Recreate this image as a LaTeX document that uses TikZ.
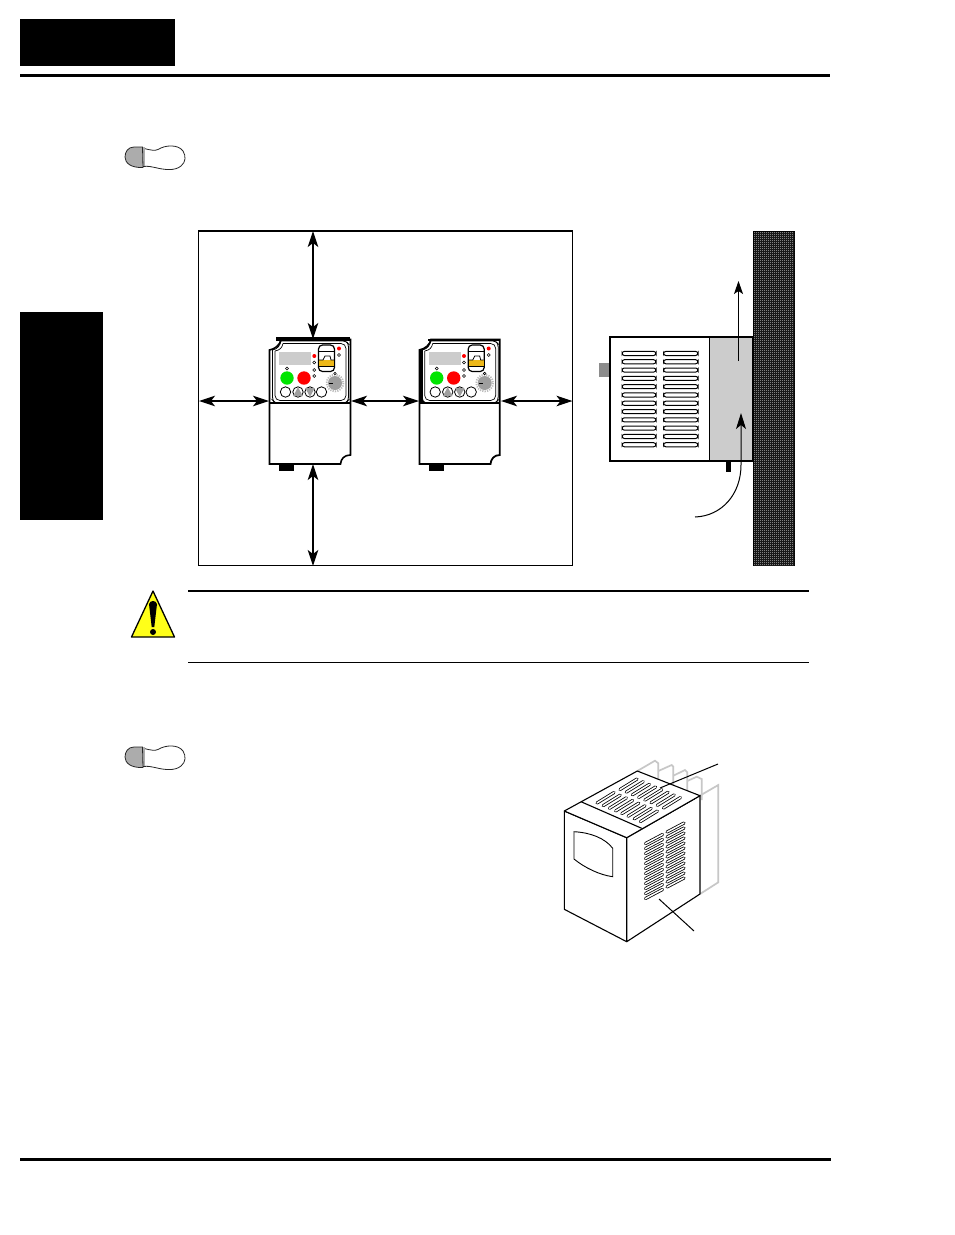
\documentclass[tikz,border=0pt]{standalone}
\usetikzlibrary{arrows.meta,patterns}
\definecolor{panelgray}{gray}{0.8}
\definecolor{dialgray}{gray}{0.62}
\definecolor{fingray}{gray}{0.78}
\definecolor{walllight}{gray}{0.78}
\definecolor{cautionyellow}{rgb}{1,1,0.1}
\definecolor{amber}{rgb}{0.93,0.72,0.1}
\pgfdeclarepatternformonly{wallcheck}{\pgfqpoint{0pt}{0pt}}{\pgfqpoint{2pt}{2pt}}{\pgfqpoint{2pt}{2pt}}{%
  \pgfpathrectangle{\pgfqpoint{0pt}{0pt}}{\pgfqpoint{1pt}{1pt}}%
  \pgfpathrectangle{\pgfqpoint{1pt}{1pt}}{\pgfqpoint{1pt}{1pt}}%
  \pgfusepath{fill}}
\tikzset{
  bigtip/.tip={Stealth[length=16pt,width=10.5pt,inset=4pt]},
  dim/.style={line width=1.1pt,{bigtip}-{bigtip}},
  flow/.style={line width=1pt,-{Stealth[length=16pt,width=10pt,inset=4pt]}},
  thinflow/.style={line width=1pt,-{Stealth[length=13pt,width=9pt,inset=3pt]}},
  outline/.style={draw=black,line width=1.1pt},
  slot/.style={draw=black,line width=1pt,fill=white,rounded corners=2.4pt},
  isoslot/.style={draw=black,line width=3.1pt,line cap=round,postaction={draw=white,line width=1.5pt,line cap=round}},
  fin/.style={draw=fingray,line width=1.7pt,line join=miter},
  led/.style={draw=black,line width=0.6pt,fill=white},
  redled/.style={fill=red,draw=none},
  btn/.style={draw=black,line width=0.8pt,fill=white},
}
\newcommand{\inverterface}[1]{%
  \begin{scope}[shift={(#1,0)}]
    % panel outline
    \draw[line width=0.8pt,rounded corners=3pt] (272.5,350)--(272.5,400)--(275,403)--(346,403)--(348.5,400)--(348.5,344)--(346,341)--(281,341);
    \draw[line width=0.8pt] (272.5,350) .. controls (278,349) and (280,345) .. (281,341);
    \draw[line width=0.7pt,rounded corners=5pt] (275,351)--(275,400.5)--(346,400.5)--(346,343.5)--(283,343.5);
    \draw[line width=0.7pt] (275,351) .. controls (280,350) and (282,348) .. (283,343.5);
    \fill[panelgray] (279,352) rectangle (311,365);
    % switch
    \draw[line width=1.2pt,fill=white,rounded corners=4pt] (318.5,345) rectangle (334.5,371.5);
    \draw[line width=0.8pt] (318.5,351) -- (334.5,351);
    \fill[amber] (319,360) rectangle (334,366);
    \draw[line width=0.8pt] (319,360) -- (323,360) -- (325,356) -- (330,356) -- (331,360) -- (334,360);
    \draw[line width=1pt] (319,366) -- (334,366);
    % LEDs
    \fill[redled] (314.3,356) circle (2);
    \draw[led] (314.3,362.5) circle (1.5);
    \draw[led] (314.3,370) circle (1.5);
    \draw[led] (314.3,376) circle (1.5);
    \fill[redled] (339,348.5) circle (2);
    \draw[led] (339,355) circle (1.5);
    \draw[led] (287,368.5) circle (1.5);
    % run and stop
    \fill[green!90!black] (287,378) circle (6.7);
    \fill[red] (304,378) circle (6.7);
    % keys
    \draw[btn] (285.5,392) circle (5.2);
    \draw[btn] (298,392) circle (5.2);
    \draw[btn] (310,392) circle (5.2);
    \draw[btn] (321.5,392) circle (5.2);
    \fill[dialgray] (298,387.2) -- (302.8,396) -- (293.2,396) -- cycle;
    \fill[dialgray] (310,396.8) -- (314.8,388) -- (305.2,388) -- cycle;
    % dial
    \draw[dialgray!70,line width=1.8pt,dash pattern=on 1.2pt off 1.2pt] (335,383) circle (8.4);
    \fill[dialgray] (335,383) circle (7);
    \draw[line width=0.6pt] (329,383) -- (333,383);
    \draw[led] (335,373.5) circle (1.3);
  \end{scope}}
\newcommand{\footprint}[1]{%
  \begin{scope}[shift={(0,#1)}]
    \fill[gray!65] (143,147) rectangle (145,167);
    \draw[line width=0.8pt,black!85] (145,148.7) .. controls (150,150) and (155,151) .. (158,149.5) .. controls (165,145) and (178,144) .. (183,151) .. controls (186,156) and (186,162) .. (181,166) .. controls (175,171) and (165,170) .. (155,167.5) .. controls (151,166.5) and (148,166) .. (143,166.5);
    \draw[line width=0.8pt,black!85,fill=gray!65] (142.5,147) -- (134,147) .. controls (128,147) and (125,152) .. (125,157) .. controls (125,163) and (131,168) .. (143,167.5) -- cycle;
  \end{scope}}
\begin{document}
\begin{tikzpicture}[x=1pt,y=-1pt]
\useasboundingbox (0,0) rectangle (954,1235);
\fill[white] (0,0) rectangle (954,1235);

% page furniture
\fill[black] (20,19) rectangle (175,66);
\fill[black] (20,312) rectangle (103,520);
\draw[line width=3pt] (20,75) -- (830,75);
\draw[line width=3pt] (20,1159.5) -- (831,1159.5);

\footprint{0}
\footprint{600}

% clearance frame
\draw[line width=1.1pt] (198.5,231) rectangle (572.5,565.5);
\coordinate (frameT) at (313,231);
\coordinate (frameB) at (313,566);
\coordinate (frameL) at (199,401);
\coordinate (frameR) at (572.5,401);

% drive 1
\draw[line width=1.6pt,fill=white] (281,339.5) -- (350.5,339.5) -- (350.5,455) .. controls (344,455) and (341,459) .. (340.5,464) -- (269.5,464) -- (269.5,350) .. controls (275,349) and (280,345) .. (281,339.5) -- cycle;
\draw[line width=3.4pt] (276,339) -- (350,339);
\inverterface{0}
\draw[line width=1.1pt] (269.5,403) -- (350.5,403);
\fill[black] (279,464) rectangle (294,470.5);
\coordinate (d1T) at (313,339);
\coordinate (d1B) at (313,464);
\coordinate (d1L) at (269,401);
\coordinate (d1R) at (351,401);

% drive 2
\draw[line width=1.8pt,fill=white] (431,339.5) -- (499.8,339.5) -- (499.8,455) .. controls (494,455) and (491,459) .. (490.5,464) -- (419.5,464) -- (419.5,350) .. controls (425,349) and (430,345) .. (431,339.5) -- cycle;
\draw[line width=1.8pt] (428,340) -- (499.5,340);
\fill[black] (418.7,349) rectangle (422.5,403);
\inverterface{149.7}
\draw[line width=1.1pt] (419.5,403) -- (499.5,403);
\fill[black] (429,464) rectangle (444,470.5);
\coordinate (d2L) at (419,401);
\coordinate (d2R) at (501,401);

\draw[dim] (frameT) -- (d1T);
\draw[dim] (d1B) -- (frameB);
\draw[dim] (frameL) -- (d1L);
\draw[dim] (d1R) -- (d2L);
\draw[dim] (d2R) -- (frameR);

% wall
\fill[black] (753,231) rectangle (795,566);
\fill[pattern=wallcheck,pattern color=walllight] (754,232) rectangle (794,565);

% side view
\fill[gray!90] (599,363) rectangle (610,377);
\fill[black] (726,461) rectangle (731,472);
\fill[panelgray] (709.5,337) rectangle (753,461);
\draw[line width=1.6pt] (610,337) rectangle (753,461);
\draw[line width=1.1pt] (709.5,337) -- (709.5,461);
\foreach \n in {0,...,11}{
  \pgfmathsetmacro{\yy}{353.3+8.3*\n}
  \draw[slot] (622,\yy-1.9) rectangle (656,\yy+2.2);
  \draw[slot] (663.5,\yy-1.9) rectangle (698,\yy+2.2);
}
\coordinate (upS) at (738.5,361);
\coordinate (upE) at (738.5,281);
\draw[thinflow] (upS) -- (upE);
\coordinate (curveS) at (695,517);
\coordinate (curveE) at (741,413);
\draw[flow] (curveS) .. controls (722,516) and (741,494) .. (741,465) -- (curveE);

% caution block
\draw[line width=2pt] (188,591) -- (808.5,591);
\draw[line width=1pt] (188,662.5) -- (808.5,662.5);
\draw[line width=1.3pt,line join=round,fill=cautionyellow] (153,591) -- (174.5,637) -- (131.5,637) -- cycle;
\fill[black] (149,604) .. controls (150,600) and (156,600) .. (157,604) -- (154.3,627) -- (151.7,627) -- cycle;
\fill[black] (153,632) circle (3);

% isometric drive
\foreach \px/\py/\qx/\qy/\rx/\ry/\sy in {
  637.3/771/655/760.7/658.3/763.3/780,
  658.3/771/671.7/765/673.3/766.7/785,
  673.3/775.7/685/770/687.3/772.3/790,
  687.3/781/696.7/776.7/701.7/779/800}{
  \draw[fin] (\px,\py) -- (\qx,\qy) -- (\rx,\ry) -- (\rx,\sy);
}
\draw[fin] (699.3,796) -- (718.3,785) -- (718.3,882.3) -- (700,894);

\draw[outline,fill=white,line join=round] (564.3,811) -- (626.7,837.7) -- (626.7,941.7) -- (564.3,909.3) -- cycle;
\draw[outline,fill=white,line join=round] (626.7,837.7) -- (700,795.7) -- (700,894) -- (626.7,941.7) -- cycle;
\draw[outline,fill=white,line join=round] (564.3,811) -- (637.3,771) -- (700,795.7) -- (626.7,837.7) -- cycle;
\draw[line width=1.1pt] (581,801.7) -- (641.7,828.3);
\draw[line width=0.9pt] (574,831.7) .. controls (590,832.5) and (605,838) .. (612.7,848.3) -- (612.7,876.7) .. controls (600,875) and (585,868) .. (574,859) -- cycle;

% top louvres
\foreach \n in {0,...,7}{
  \pgfmathsetmacro{\ax}{597+6.2*\n}
  \pgfmathsetmacro{\ay}{803+2.65*\n}
  \draw[isoslot] (\ax,\ay) -- (\ax+17,\ay-10.5);
}
\foreach \n in {0,...,7}{
  \pgfmathsetmacro{\ax}{620+6.2*\n}
  \pgfmathsetmacro{\ay}{789.5+2.65*\n}
  \draw[isoslot] (\ax,\ay) -- (\ax+17,\ay-10.5);
}
% side louvres
\foreach \n in {0,...,11}{
  \pgfmathsetmacro{\ay}{843.5+5*\n}
  \draw[isoslot] (645.5,\ay) -- (662.5,\ay-9);
}
\foreach \n in {0,...,11}{
  \pgfmathsetmacro{\ay}{832+5*\n}
  \draw[isoslot] (667,\ay) -- (684,\ay-9);
}
\coordinate (leadA) at (660,788);
\coordinate (leadAe) at (718,764);
\draw[line width=1pt] (leadA) -- (leadAe);
\coordinate (leadB) at (659,899);
\coordinate (leadBe) at (694,931);
\draw[line width=1pt] (leadB) -- (leadBe);
\end{tikzpicture}
\end{document}
